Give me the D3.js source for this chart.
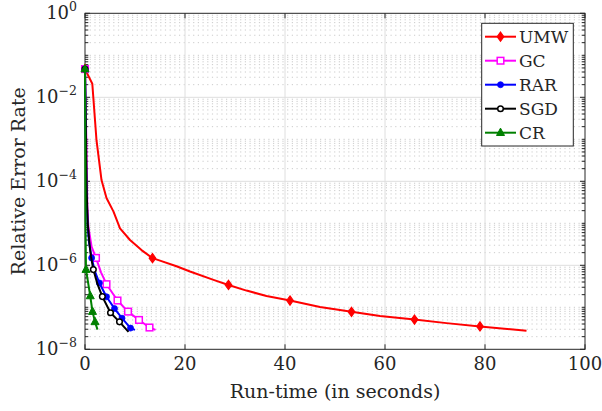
<!DOCTYPE html>
<html>
<head>
<meta charset="utf-8">
<script src="https://cdn.jsdelivr.net/npm/d3@7"></script>
<style>
  html, body { margin: 0; padding: 0; background: #fff; }
  svg { display: block; font-family: "DejaVu Serif", "Liberation Serif", serif; }
</style>
</head>
<body>
<div id="chart"></div>
<script>
// values (log-scale y)
const umwTime  = [0, 1.46, 2.3, 3.3, 4.3, 5.7, 7.0, 9.0, 11.3, 13.5, 15.0, 18.3, 21.0, 25.7, 28.7, 32.3, 36.3, 41.0, 47.0, 53.3, 59.0, 65.9, 72.3, 79.0, 88.3];
const umwError = [4.7e-2, 2.1e-2, 9.5e-4, 1.07e-4, 4.0e-5, 1.9e-5, 7.6e-6, 4.0e-6, 2.3e-6, 1.48e-6, 1.29e-6, 9.5e-7, 7.1e-7, 4.5e-7, 3.4e-7, 2.5e-7, 1.86e-7, 1.45e-7, 1.02e-7, 7.8e-8, 6.2e-8, 5.1e-8, 4.2e-8, 3.5e-8, 2.75e-8];
const umwMarks = [0, 9, 14, 17, 19, 21, 23];

const gcTime  = [0, 0.27, 0.47, 0.67, 1.33, 2.2, 3.2, 4.3, 6.5, 8.6, 10.8, 12.9, 14.1];
const gcError = [4.7e-2, 9.5e-4, 2.5e-5, 8.3e-6, 2.75e-6, 1.5e-6, 6.8e-7, 3.55e-7, 1.45e-7, 7.9e-8, 5.0e-8, 3.3e-8, 2.9e-8];
const gcMarks = [0, 5, 7, 8, 9, 10, 11];

const rarTime  = [0, 0.15, 0.3, 0.5, 0.8, 1.33, 2.0, 2.87, 4.3, 5.9, 7.4, 9.1, 10.0];
const rarError = [4.7e-2, 1.0e-3, 5.0e-5, 1.0e-5, 3.55e-6, 1.5e-6, 7.1e-7, 3.8e-7, 1.78e-7, 9.3e-8, 5.5e-8, 3.2e-8, 2.9e-8];
const rarMarks = [0, 5, 7, 8, 9, 10, 11];

const sgdTime  = [0, 0.2, 0.35, 0.55, 0.9, 1.2, 1.67, 2.5, 3.47, 5.1, 6.9, 8.7];
const sgdError = [4.7e-2, 1.0e-3, 5.0e-5, 1.0e-5, 3.2e-6, 1.6e-6, 7.9e-7, 3.55e-7, 1.8e-7, 7.4e-8, 4.5e-8, 2.6e-8];
const sgdMarks = [0, 6, 8, 9, 10];

const crTime  = [0, 0.05, 0.1, 0.2, 1.05, 1.5, 2.0, 2.5];
const crError = [4.7e-2, 1.0e-3, 1.0e-5, 7.9e-7, 1.86e-7, 7.9e-8, 4.5e-8, 2.95e-8];
const crMarks = [0, 3, 4, 5, 6];

const seriesNames = ['UMW', 'GC', 'RAR', 'SGD', 'CR'];
const xTickValues = [0, 20, 40, 60, 80, 100];
const yTickExponents = [0, -2, -4, -6, -8];

const series = [
  { name: seriesNames[0], time: umwTime, error: umwError, marks: umwMarks, color: '#ff0000', marker: 'diamond' },
  { name: seriesNames[1], time: gcTime, error: gcError, marks: gcMarks, color: '#ff00ff', marker: 'square' },
  { name: seriesNames[2], time: rarTime, error: rarError, marks: rarMarks, color: '#0000ff', marker: 'dot' },
  { name: seriesNames[3], time: sgdTime, error: sgdError, marks: sgdMarks, color: '#000000', marker: 'circle' },
  { name: seriesNames[4], time: crTime, error: crError, marks: crMarks, color: '#008000', marker: 'triangle' },
];

const width = 602, height = 411;
const margin = { top: 13.3, right: 17, bottom: 61.7, left: 85 };
const axisColor = '#262626';

const svg = d3.select('#chart').append('svg')
  .attr('width', width).attr('height', height);

const x = d3.scaleLinear().domain([0, 100]).range([margin.left, width - margin.right]);
const y = d3.scaleLog().domain([1e-8, 1]).range([height - margin.bottom, margin.top]);
const [x0, x1] = x.range();
const [y0, y1] = y.range();

// minor decade positions
const minorY = [];
for (let e = -8; e < 0; e++) {
  for (let m = 1; m <= 9; m++) {
    if (m === 1 && e % 2 === 0) continue;
    minorY.push(m * Math.pow(10, e));
  }
}

const grid = svg.append('g');
grid.selectAll('line.minor').data(minorY).enter().append('line')
  .attr('x1', x0).attr('x2', x1)
  .attr('y1', (d) => y(d)).attr('y2', (d) => y(d))
  .attr('stroke', '#cbcbcb').attr('stroke-width', 1)
  .attr('stroke-dasharray', '1.2,3.5');
grid.selectAll('line.vmajor').data(xTickValues.slice(1, -1)).enter().append('line')
  .attr('x1', (d) => x(d)).attr('x2', (d) => x(d))
  .attr('y1', y0).attr('y2', y1)
  .attr('stroke', '#dedede').attr('stroke-width', 1);
grid.selectAll('line.hmajor').data(yTickExponents.slice(1, -1)).enter().append('line')
  .attr('x1', x0).attr('x2', x1)
  .attr('y1', (d) => y(Math.pow(10, d))).attr('y2', (d) => y(Math.pow(10, d)))
  .attr('stroke', '#dedede').attr('stroke-width', 1);

// axes box + ticks
const axes = svg.append('g').attr('stroke', axisColor).attr('stroke-width', 1);
axes.append('rect')
  .attr('x', x0).attr('y', y1).attr('width', x1 - x0).attr('height', y0 - y1)
  .attr('fill', 'none');
xTickValues.forEach((v) => {
  axes.append('line').attr('x1', x(v)).attr('x2', x(v)).attr('y1', y0).attr('y2', y0 - 5);
  axes.append('line').attr('x1', x(v)).attr('x2', x(v)).attr('y1', y1).attr('y2', y1 + 5);
});
yTickExponents.forEach((e) => {
  const py = y(Math.pow(10, e));
  axes.append('line').attr('x1', x0).attr('x2', x0 + 5).attr('y1', py).attr('y2', py);
  axes.append('line').attr('x1', x1).attr('x2', x1 - 5).attr('y1', py).attr('y2', py);
});
minorY.forEach((v) => {
  const py = y(v);
  axes.append('line').attr('x1', x0).attr('x2', x0 + 3.3).attr('y1', py).attr('y2', py);
  axes.append('line').attr('x1', x1).attr('x2', x1 - 3.3).attr('y1', py).attr('y2', py);
});

// tick labels
svg.append('g').selectAll('text').data(xTickValues).enter().append('text')
  .attr('x', (d) => x(d)).attr('y', 369.5)
  .attr('text-anchor', 'middle')
  .attr('font-size', 18).attr('fill', axisColor)
  .text((d) => d);

const yLabels = svg.append('g').selectAll('text').data(yTickExponents).enter().append('text')
  .attr('x', 77).attr('y', (d) => y(Math.pow(10, d)) + 5.5)
  .attr('text-anchor', 'end')
  .attr('font-size', 18).attr('fill', axisColor);
yLabels.append('tspan').text('10');
yLabels.append('tspan').attr('font-size', 12.5).attr('dy', -7.8)
  .text((d) => (d < 0 ? '\u2212' + (-d) : d));

// axis titles
svg.append('text')
  .attr('x', (x0 + x1) / 2).attr('y', 398)
  .attr('text-anchor', 'middle').attr('font-size', 19)
  .attr('fill', axisColor)
  .text('Run-time (in seconds)');
svg.append('text')
  .attr('transform', `translate(25,${(y0 + y1) / 2}) rotate(-90)`)
  .attr('text-anchor', 'middle').attr('font-size', 19)
  .attr('fill', axisColor)
  .text('Relative Error Rate');

function drawMarker(sel, kind, color) {
  if (kind === 'diamond') {
    sel.append('path').attr('d', 'M0,-4.6L3.3,0L0,4.6L-3.3,0Z')
      .attr('fill', color).attr('stroke', color).attr('stroke-width', 1.2);
  } else if (kind === 'square') {
    sel.append('rect').attr('x', -3.3).attr('y', -3.3).attr('width', 6.6).attr('height', 6.6)
      .attr('fill', '#fff').attr('stroke', color).attr('stroke-width', 1.5);
  } else if (kind === 'dot') {
    sel.append('circle').attr('r', 3).attr('fill', color).attr('stroke', color).attr('stroke-width', 0.8);
  } else if (kind === 'circle') {
    sel.append('circle').attr('r', 2.8).attr('fill', '#fff').attr('stroke', color).attr('stroke-width', 1.5);
  } else if (kind === 'triangle') {
    sel.append('path').attr('d', 'M0,-4.6L4,2.8L-4,2.8Z')
      .attr('fill', color).attr('stroke', color).attr('stroke-width', 1);
  }
}

const line = d3.line().x((d) => x(d[0])).y((d) => y(d[1]));

series.forEach((s) => {
  const pts = s.time.map((t, i) => [t, s.error[i]]);
  const g = svg.append('g');
  g.append('path').datum(pts)
    .attr('d', line)
    .attr('fill', 'none').attr('stroke', s.color).attr('stroke-width', 2)
    .attr('stroke-linejoin', 'round');
  s.marks.forEach((i) => {
    const m = g.append('g').attr('transform', `translate(${x(pts[i][0])},${y(pts[i][1])})`);
    drawMarker(m, s.marker, s.color);
  });
});

// legend
const legend = svg.append('g');
legend.append('rect')
  .attr('x', 481.7).attr('y', 23.3).attr('width', 91.6).attr('height', 122.7)
  .attr('fill', '#fff').attr('stroke', axisColor).attr('stroke-width', 1);
series.forEach((s, i) => {
  const cy = 36.7 + i * 24;
  legend.append('line').attr('x1', 485).attr('x2', 516).attr('y1', cy).attr('y2', cy)
    .attr('stroke', s.color).attr('stroke-width', 2);
  const m = legend.append('g').attr('transform', `translate(500.5,${cy})`);
  drawMarker(m, s.marker, s.color);
  legend.append('text').attr('x', 519).attr('y', cy + 6)
    .attr('font-size', 17).attr('fill', axisColor)
    .text(s.name);
});
</script>
</body>
</html>
